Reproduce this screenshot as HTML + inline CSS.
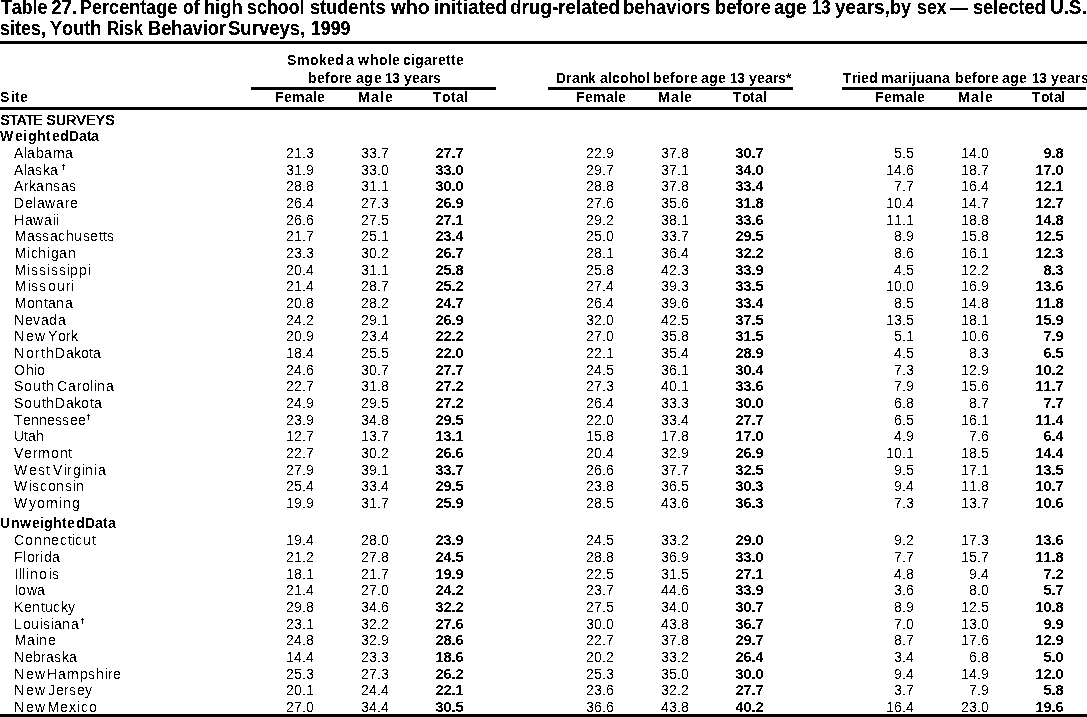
<!DOCTYPE html>
<html lang="en"><head><meta charset="utf-8"><title>Table 27</title>
<style>
html,body{margin:0;padding:0;background:#fff;}
body{width:1087px;height:717px;position:relative;overflow:hidden;font-family:"Liberation Sans",sans-serif;color:#000;font-kerning:none;}
.ly{position:absolute;left:0;top:0;width:1087px;height:717px;overflow:hidden;}
#lr{filter:url(#fr);}
#lb{filter:url(#fb);}
#lb i{font-weight:bold;}
#lm{filter:url(#fm);}
#ln{filter:url(#fn);}
#lt{filter:url(#ft);}
.w{position:absolute;left:0;font-size:14px;line-height:16px;}
.w i{position:absolute;top:0;font-style:normal;white-space:pre;}
.t{position:absolute;white-space:nowrap;margin:0;padding:0;}
.r{position:absolute;background:#000;}
</style></head>
<body>
<svg width="0" height="0" style="position:absolute"><defs>
<filter id="fr" x="0" y="0" width="100%" height="100%" color-interpolation-filters="sRGB"><feComponentTransfer><feFuncA type="discrete" tableValues="0 0 0 0 0 0 0 0 0 0 0 0 0 0 0 0 0 0 0 0 1 1 1 1 1 1 1 1 1 1 1 1 1 1 1 1 1 1 1 1"/></feComponentTransfer></filter>
<filter id="fb" x="0" y="0" width="100%" height="100%" color-interpolation-filters="sRGB"><feComponentTransfer><feFuncA type="discrete" tableValues="0 0 0 0 0 0 0 0 0 0 0 0 0 0 0 0 0 0 0 0 1 1 1 1 1 1 1 1 1 1 1 1 1 1 1 1 1 1 1 1"/></feComponentTransfer></filter>
<filter id="fm" x="0" y="0" width="100%" height="100%" color-interpolation-filters="sRGB"><feComponentTransfer><feFuncA type="discrete" tableValues="0 0 0 0 0 0 0 0 0 0 0 0 0 0 0 0 0 0 1 1 1 1 1 1 1 1 1 1 1 1 1 1 1 1 1 1 1 1 1 1"/></feComponentTransfer></filter>
<filter id="fn" x="0" y="0" width="100%" height="100%" color-interpolation-filters="sRGB"><feComponentTransfer><feFuncA type="discrete" tableValues="0 0 0 0 0 0 0 0 0 0 0 0 0 0 0 0 0 0 0 0 0 0 0 0 0 0 0 0 0 0 0 0 0 0 0 0 0 0 0 0 0 0 0 0 0 0 0 0 0 0 1 1 1 1 1 1 1 1 1 1 1 1 1 1 1 1 1 1 1 1 1 1 1 1 1 1 1 1 1 1 1 1 1 1 1 1 1 1 1 1 1 1 1 1 1 1 1 1 1 1"/></feComponentTransfer></filter>
<filter id="ft" x="0" y="0" width="100%" height="100%" color-interpolation-filters="sRGB"><feComponentTransfer><feFuncA type="discrete" tableValues="0 0 0 0 0 0 0 0 0 0 0 0 0 0 0 0 0 0 0 0 0 0 0 0 0 0 0 0 0 0 0 0 0 0 0 0 0 0 0 0 1 1 1 1 1 1 1 1 1 1 1 1 1 1 1 1 1 1 1 1 1 1 1 1 1 1 1 1 1 1 1 1 1 1 1 1 1 1 1 1 1 1 1 1 1 1 1 1 1 1 1 1 1 1 1 1 1 1 1 1"/></feComponentTransfer></filter>
</defs></svg>
<div class="ly">
<div class="r" style="left:0px;top:41px;width:1087px;height:3px"></div>
<div class="r" style="left:251px;top:87px;width:245px;height:3px"></div>
<div class="r" style="left:548px;top:87px;width:245px;height:3px"></div>
<div class="r" style="left:842px;top:87px;width:244px;height:3px"></div>
<div class="r" style="left:0px;top:107px;width:1087px;height:3px"></div>
<div class="r" style="left:0px;top:714px;width:1087px;height:3px"></div>
<div class="r" style="left:63px;top:164px;width:1px;height:6px"></div>
<div class="r" style="left:62px;top:165px;width:3px;height:1px"></div>
<div class="r" style="left:88px;top:414px;width:1px;height:6px"></div>
<div class="r" style="left:87px;top:415px;width:3px;height:1px"></div>
<div class="r" style="left:82px;top:618px;width:1px;height:6px"></div>
<div class="r" style="left:81px;top:619px;width:3px;height:1px"></div>
</div>
<div class="ly" id="lr">
<div class="t" style="top:145px;font-size:14px;line-height:16px;letter-spacing:0.2146px;left:286px;">21.3</div>
<div class="t" style="top:145px;font-size:14px;line-height:16px;letter-spacing:0.2146px;left:361px;">33.7</div>
<div class="t" style="top:145px;font-size:14px;line-height:16px;letter-spacing:0.2146px;left:586px;">22.9</div>
<div class="t" style="top:145px;font-size:14px;line-height:16px;letter-spacing:0.2146px;left:661px;">37.8</div>
<div class="t" style="top:145px;font-size:14px;line-height:16px;letter-spacing:0.2146px;left:894px;">5.5</div>
<div class="t" style="top:145px;font-size:14px;line-height:16px;letter-spacing:0.2146px;left:961px;">14.0</div>
<div class="t" style="top:162px;font-size:14px;line-height:16px;letter-spacing:0.2146px;left:286px;">31.9</div>
<div class="t" style="top:162px;font-size:14px;line-height:16px;letter-spacing:0.2146px;left:361px;">33.0</div>
<div class="t" style="top:162px;font-size:14px;line-height:16px;letter-spacing:0.2146px;left:586px;">29.7</div>
<div class="t" style="top:162px;font-size:14px;line-height:16px;letter-spacing:0.2146px;left:661px;">37.1</div>
<div class="t" style="top:162px;font-size:14px;line-height:16px;letter-spacing:0.2146px;left:886px;">14.6</div>
<div class="t" style="top:162px;font-size:14px;line-height:16px;letter-spacing:0.2146px;left:961px;">18.7</div>
<div class="t" style="top:178px;font-size:14px;line-height:16px;letter-spacing:0.2146px;left:286px;">28.8</div>
<div class="t" style="top:178px;font-size:14px;line-height:16px;letter-spacing:0.2146px;left:361px;">31.1</div>
<div class="t" style="top:178px;font-size:14px;line-height:16px;letter-spacing:0.2146px;left:586px;">28.8</div>
<div class="t" style="top:178px;font-size:14px;line-height:16px;letter-spacing:0.2146px;left:661px;">37.8</div>
<div class="t" style="top:178px;font-size:14px;line-height:16px;letter-spacing:0.2146px;left:894px;">7.7</div>
<div class="t" style="top:178px;font-size:14px;line-height:16px;letter-spacing:0.2146px;left:961px;">16.4</div>
<div class="t" style="top:195px;font-size:14px;line-height:16px;letter-spacing:0.2146px;left:286px;">26.4</div>
<div class="t" style="top:195px;font-size:14px;line-height:16px;letter-spacing:0.2146px;left:361px;">27.3</div>
<div class="t" style="top:195px;font-size:14px;line-height:16px;letter-spacing:0.2146px;left:586px;">27.6</div>
<div class="t" style="top:195px;font-size:14px;line-height:16px;letter-spacing:0.2146px;left:661px;">35.6</div>
<div class="t" style="top:195px;font-size:14px;line-height:16px;letter-spacing:0.2146px;left:886px;">10.4</div>
<div class="t" style="top:195px;font-size:14px;line-height:16px;letter-spacing:0.2146px;left:961px;">14.7</div>
<div class="t" style="top:212px;font-size:14px;line-height:16px;letter-spacing:0.2146px;left:286px;">26.6</div>
<div class="t" style="top:212px;font-size:14px;line-height:16px;letter-spacing:0.2146px;left:361px;">27.5</div>
<div class="t" style="top:212px;font-size:14px;line-height:16px;letter-spacing:0.2146px;left:586px;">29.2</div>
<div class="t" style="top:212px;font-size:14px;line-height:16px;letter-spacing:0.2146px;left:661px;">38.1</div>
<div class="t" style="top:212px;font-size:14px;line-height:16px;letter-spacing:0.2146px;left:886px;">11.1</div>
<div class="t" style="top:212px;font-size:14px;line-height:16px;letter-spacing:0.2146px;left:961px;">18.8</div>
<div class="t" style="top:228px;font-size:14px;line-height:16px;letter-spacing:0.2146px;left:286px;">21.7</div>
<div class="t" style="top:228px;font-size:14px;line-height:16px;letter-spacing:0.2146px;left:361px;">25.1</div>
<div class="t" style="top:228px;font-size:14px;line-height:16px;letter-spacing:0.2146px;left:586px;">25.0</div>
<div class="t" style="top:228px;font-size:14px;line-height:16px;letter-spacing:0.2146px;left:661px;">33.7</div>
<div class="t" style="top:228px;font-size:14px;line-height:16px;letter-spacing:0.2146px;left:894px;">8.9</div>
<div class="t" style="top:228px;font-size:14px;line-height:16px;letter-spacing:0.2146px;left:961px;">15.8</div>
<div class="t" style="top:245px;font-size:14px;line-height:16px;letter-spacing:0.2146px;left:286px;">23.3</div>
<div class="t" style="top:245px;font-size:14px;line-height:16px;letter-spacing:0.2146px;left:361px;">30.2</div>
<div class="t" style="top:245px;font-size:14px;line-height:16px;letter-spacing:0.2146px;left:586px;">28.1</div>
<div class="t" style="top:245px;font-size:14px;line-height:16px;letter-spacing:0.2146px;left:661px;">36.4</div>
<div class="t" style="top:245px;font-size:14px;line-height:16px;letter-spacing:0.2146px;left:894px;">8.6</div>
<div class="t" style="top:245px;font-size:14px;line-height:16px;letter-spacing:0.2146px;left:961px;">16.1</div>
<div class="t" style="top:262px;font-size:14px;line-height:16px;letter-spacing:0.2146px;left:286px;">20.4</div>
<div class="t" style="top:262px;font-size:14px;line-height:16px;letter-spacing:0.2146px;left:361px;">31.1</div>
<div class="t" style="top:262px;font-size:14px;line-height:16px;letter-spacing:0.2146px;left:586px;">25.8</div>
<div class="t" style="top:262px;font-size:14px;line-height:16px;letter-spacing:0.2146px;left:661px;">42.3</div>
<div class="t" style="top:262px;font-size:14px;line-height:16px;letter-spacing:0.2146px;left:894px;">4.5</div>
<div class="t" style="top:262px;font-size:14px;line-height:16px;letter-spacing:0.2146px;left:961px;">12.2</div>
<div class="t" style="top:278px;font-size:14px;line-height:16px;letter-spacing:0.2146px;left:286px;">21.4</div>
<div class="t" style="top:278px;font-size:14px;line-height:16px;letter-spacing:0.2146px;left:361px;">28.7</div>
<div class="t" style="top:278px;font-size:14px;line-height:16px;letter-spacing:0.2146px;left:586px;">27.4</div>
<div class="t" style="top:278px;font-size:14px;line-height:16px;letter-spacing:0.2146px;left:661px;">39.3</div>
<div class="t" style="top:278px;font-size:14px;line-height:16px;letter-spacing:0.2146px;left:886px;">10.0</div>
<div class="t" style="top:278px;font-size:14px;line-height:16px;letter-spacing:0.2146px;left:961px;">16.9</div>
<div class="t" style="top:295px;font-size:14px;line-height:16px;letter-spacing:0.2146px;left:286px;">20.8</div>
<div class="t" style="top:295px;font-size:14px;line-height:16px;letter-spacing:0.2146px;left:361px;">28.2</div>
<div class="t" style="top:295px;font-size:14px;line-height:16px;letter-spacing:0.2146px;left:586px;">26.4</div>
<div class="t" style="top:295px;font-size:14px;line-height:16px;letter-spacing:0.2146px;left:661px;">39.6</div>
<div class="t" style="top:295px;font-size:14px;line-height:16px;letter-spacing:0.2146px;left:894px;">8.5</div>
<div class="t" style="top:295px;font-size:14px;line-height:16px;letter-spacing:0.2146px;left:961px;">14.8</div>
<div class="t" style="top:312px;font-size:14px;line-height:16px;letter-spacing:0.2146px;left:286px;">24.2</div>
<div class="t" style="top:312px;font-size:14px;line-height:16px;letter-spacing:0.2146px;left:361px;">29.1</div>
<div class="t" style="top:312px;font-size:14px;line-height:16px;letter-spacing:0.2146px;left:586px;">32.0</div>
<div class="t" style="top:312px;font-size:14px;line-height:16px;letter-spacing:0.2146px;left:661px;">42.5</div>
<div class="t" style="top:312px;font-size:14px;line-height:16px;letter-spacing:0.2146px;left:886px;">13.5</div>
<div class="t" style="top:312px;font-size:14px;line-height:16px;letter-spacing:0.2146px;left:961px;">18.1</div>
<div class="t" style="top:328px;font-size:14px;line-height:16px;letter-spacing:0.2146px;left:286px;">20.9</div>
<div class="t" style="top:328px;font-size:14px;line-height:16px;letter-spacing:0.2146px;left:361px;">23.4</div>
<div class="t" style="top:328px;font-size:14px;line-height:16px;letter-spacing:0.2146px;left:586px;">27.0</div>
<div class="t" style="top:328px;font-size:14px;line-height:16px;letter-spacing:0.2146px;left:661px;">35.8</div>
<div class="t" style="top:328px;font-size:14px;line-height:16px;letter-spacing:0.2146px;left:894px;">5.1</div>
<div class="t" style="top:328px;font-size:14px;line-height:16px;letter-spacing:0.2146px;left:961px;">10.6</div>
<div class="t" style="top:345px;font-size:14px;line-height:16px;letter-spacing:0.2146px;left:286px;">18.4</div>
<div class="t" style="top:345px;font-size:14px;line-height:16px;letter-spacing:0.2146px;left:361px;">25.5</div>
<div class="t" style="top:345px;font-size:14px;line-height:16px;letter-spacing:0.2146px;left:586px;">22.1</div>
<div class="t" style="top:345px;font-size:14px;line-height:16px;letter-spacing:0.2146px;left:661px;">35.4</div>
<div class="t" style="top:345px;font-size:14px;line-height:16px;letter-spacing:0.2146px;left:894px;">4.5</div>
<div class="t" style="top:345px;font-size:14px;line-height:16px;letter-spacing:0.2146px;left:969px;">8.3</div>
<div class="t" style="top:362px;font-size:14px;line-height:16px;letter-spacing:0.2146px;left:286px;">24.6</div>
<div class="t" style="top:362px;font-size:14px;line-height:16px;letter-spacing:0.2146px;left:361px;">30.7</div>
<div class="t" style="top:362px;font-size:14px;line-height:16px;letter-spacing:0.2146px;left:586px;">24.5</div>
<div class="t" style="top:362px;font-size:14px;line-height:16px;letter-spacing:0.2146px;left:661px;">36.1</div>
<div class="t" style="top:362px;font-size:14px;line-height:16px;letter-spacing:0.2146px;left:894px;">7.3</div>
<div class="t" style="top:362px;font-size:14px;line-height:16px;letter-spacing:0.2146px;left:961px;">12.9</div>
<div class="t" style="top:378px;font-size:14px;line-height:16px;letter-spacing:0.2146px;left:286px;">22.7</div>
<div class="t" style="top:378px;font-size:14px;line-height:16px;letter-spacing:0.2146px;left:361px;">31.8</div>
<div class="t" style="top:378px;font-size:14px;line-height:16px;letter-spacing:0.2146px;left:586px;">27.3</div>
<div class="t" style="top:378px;font-size:14px;line-height:16px;letter-spacing:0.2146px;left:661px;">40.1</div>
<div class="t" style="top:378px;font-size:14px;line-height:16px;letter-spacing:0.2146px;left:894px;">7.9</div>
<div class="t" style="top:378px;font-size:14px;line-height:16px;letter-spacing:0.2146px;left:961px;">15.6</div>
<div class="t" style="top:395px;font-size:14px;line-height:16px;letter-spacing:0.2146px;left:286px;">24.9</div>
<div class="t" style="top:395px;font-size:14px;line-height:16px;letter-spacing:0.2146px;left:361px;">29.5</div>
<div class="t" style="top:395px;font-size:14px;line-height:16px;letter-spacing:0.2146px;left:586px;">26.4</div>
<div class="t" style="top:395px;font-size:14px;line-height:16px;letter-spacing:0.2146px;left:661px;">33.3</div>
<div class="t" style="top:395px;font-size:14px;line-height:16px;letter-spacing:0.2146px;left:894px;">6.8</div>
<div class="t" style="top:395px;font-size:14px;line-height:16px;letter-spacing:0.2146px;left:969px;">8.7</div>
<div class="t" style="top:412px;font-size:14px;line-height:16px;letter-spacing:0.2146px;left:286px;">23.9</div>
<div class="t" style="top:412px;font-size:14px;line-height:16px;letter-spacing:0.2146px;left:361px;">34.8</div>
<div class="t" style="top:412px;font-size:14px;line-height:16px;letter-spacing:0.2146px;left:586px;">22.0</div>
<div class="t" style="top:412px;font-size:14px;line-height:16px;letter-spacing:0.2146px;left:661px;">33.4</div>
<div class="t" style="top:412px;font-size:14px;line-height:16px;letter-spacing:0.2146px;left:894px;">6.5</div>
<div class="t" style="top:412px;font-size:14px;line-height:16px;letter-spacing:0.2146px;left:961px;">16.1</div>
<div class="t" style="top:428px;font-size:14px;line-height:16px;letter-spacing:0.2146px;left:286px;">12.7</div>
<div class="t" style="top:428px;font-size:14px;line-height:16px;letter-spacing:0.2146px;left:361px;">13.7</div>
<div class="t" style="top:428px;font-size:14px;line-height:16px;letter-spacing:0.2146px;left:586px;">15.8</div>
<div class="t" style="top:428px;font-size:14px;line-height:16px;letter-spacing:0.2146px;left:661px;">17.8</div>
<div class="t" style="top:428px;font-size:14px;line-height:16px;letter-spacing:0.2146px;left:894px;">4.9</div>
<div class="t" style="top:428px;font-size:14px;line-height:16px;letter-spacing:0.2146px;left:969px;">7.6</div>
<div class="t" style="top:445px;font-size:14px;line-height:16px;letter-spacing:0.2146px;left:286px;">22.7</div>
<div class="t" style="top:445px;font-size:14px;line-height:16px;letter-spacing:0.2146px;left:361px;">30.2</div>
<div class="t" style="top:445px;font-size:14px;line-height:16px;letter-spacing:0.2146px;left:586px;">20.4</div>
<div class="t" style="top:445px;font-size:14px;line-height:16px;letter-spacing:0.2146px;left:661px;">32.9</div>
<div class="t" style="top:445px;font-size:14px;line-height:16px;letter-spacing:0.2146px;left:886px;">10.1</div>
<div class="t" style="top:445px;font-size:14px;line-height:16px;letter-spacing:0.2146px;left:961px;">18.5</div>
<div class="t" style="top:462px;font-size:14px;line-height:16px;letter-spacing:0.2146px;left:286px;">27.9</div>
<div class="t" style="top:462px;font-size:14px;line-height:16px;letter-spacing:0.2146px;left:361px;">39.1</div>
<div class="t" style="top:462px;font-size:14px;line-height:16px;letter-spacing:0.2146px;left:586px;">26.6</div>
<div class="t" style="top:462px;font-size:14px;line-height:16px;letter-spacing:0.2146px;left:661px;">37.7</div>
<div class="t" style="top:462px;font-size:14px;line-height:16px;letter-spacing:0.2146px;left:894px;">9.5</div>
<div class="t" style="top:462px;font-size:14px;line-height:16px;letter-spacing:0.2146px;left:961px;">17.1</div>
<div class="t" style="top:478px;font-size:14px;line-height:16px;letter-spacing:0.2146px;left:286px;">25.4</div>
<div class="t" style="top:478px;font-size:14px;line-height:16px;letter-spacing:0.2146px;left:361px;">33.4</div>
<div class="t" style="top:478px;font-size:14px;line-height:16px;letter-spacing:0.2146px;left:586px;">23.8</div>
<div class="t" style="top:478px;font-size:14px;line-height:16px;letter-spacing:0.2146px;left:661px;">36.5</div>
<div class="t" style="top:478px;font-size:14px;line-height:16px;letter-spacing:0.2146px;left:894px;">9.4</div>
<div class="t" style="top:478px;font-size:14px;line-height:16px;letter-spacing:0.2146px;left:961px;">11.8</div>
<div class="t" style="top:495px;font-size:14px;line-height:16px;letter-spacing:0.2146px;left:286px;">19.9</div>
<div class="t" style="top:495px;font-size:14px;line-height:16px;letter-spacing:0.2146px;left:361px;">31.7</div>
<div class="t" style="top:495px;font-size:14px;line-height:16px;letter-spacing:0.2146px;left:586px;">28.5</div>
<div class="t" style="top:495px;font-size:14px;line-height:16px;letter-spacing:0.2146px;left:661px;">43.6</div>
<div class="t" style="top:495px;font-size:14px;line-height:16px;letter-spacing:0.2146px;left:894px;">7.3</div>
<div class="t" style="top:495px;font-size:14px;line-height:16px;letter-spacing:0.2146px;left:961px;">13.7</div>
<div class="t" style="top:532px;font-size:14px;line-height:16px;letter-spacing:0.2146px;left:286px;">19.4</div>
<div class="t" style="top:532px;font-size:14px;line-height:16px;letter-spacing:0.2146px;left:361px;">28.0</div>
<div class="t" style="top:532px;font-size:14px;line-height:16px;letter-spacing:0.2146px;left:586px;">24.5</div>
<div class="t" style="top:532px;font-size:14px;line-height:16px;letter-spacing:0.2146px;left:661px;">33.2</div>
<div class="t" style="top:532px;font-size:14px;line-height:16px;letter-spacing:0.2146px;left:894px;">9.2</div>
<div class="t" style="top:532px;font-size:14px;line-height:16px;letter-spacing:0.2146px;left:961px;">17.3</div>
<div class="t" style="top:549px;font-size:14px;line-height:16px;letter-spacing:0.2146px;left:286px;">21.2</div>
<div class="t" style="top:549px;font-size:14px;line-height:16px;letter-spacing:0.2146px;left:361px;">27.8</div>
<div class="t" style="top:549px;font-size:14px;line-height:16px;letter-spacing:0.2146px;left:586px;">28.8</div>
<div class="t" style="top:549px;font-size:14px;line-height:16px;letter-spacing:0.2146px;left:661px;">36.9</div>
<div class="t" style="top:549px;font-size:14px;line-height:16px;letter-spacing:0.2146px;left:894px;">7.7</div>
<div class="t" style="top:549px;font-size:14px;line-height:16px;letter-spacing:0.2146px;left:961px;">15.7</div>
<div class="t" style="top:566px;font-size:14px;line-height:16px;letter-spacing:0.2146px;left:286px;">18.1</div>
<div class="t" style="top:566px;font-size:14px;line-height:16px;letter-spacing:0.2146px;left:361px;">21.7</div>
<div class="t" style="top:566px;font-size:14px;line-height:16px;letter-spacing:0.2146px;left:586px;">22.5</div>
<div class="t" style="top:566px;font-size:14px;line-height:16px;letter-spacing:0.2146px;left:661px;">31.5</div>
<div class="t" style="top:566px;font-size:14px;line-height:16px;letter-spacing:0.2146px;left:894px;">4.8</div>
<div class="t" style="top:566px;font-size:14px;line-height:16px;letter-spacing:0.2146px;left:969px;">9.4</div>
<div class="t" style="top:582px;font-size:14px;line-height:16px;letter-spacing:0.2146px;left:286px;">21.4</div>
<div class="t" style="top:582px;font-size:14px;line-height:16px;letter-spacing:0.2146px;left:361px;">27.0</div>
<div class="t" style="top:582px;font-size:14px;line-height:16px;letter-spacing:0.2146px;left:586px;">23.7</div>
<div class="t" style="top:582px;font-size:14px;line-height:16px;letter-spacing:0.2146px;left:661px;">44.6</div>
<div class="t" style="top:582px;font-size:14px;line-height:16px;letter-spacing:0.2146px;left:894px;">3.6</div>
<div class="t" style="top:582px;font-size:14px;line-height:16px;letter-spacing:0.2146px;left:969px;">8.0</div>
<div class="t" style="top:599px;font-size:14px;line-height:16px;letter-spacing:0.2146px;left:286px;">29.8</div>
<div class="t" style="top:599px;font-size:14px;line-height:16px;letter-spacing:0.2146px;left:361px;">34.6</div>
<div class="t" style="top:599px;font-size:14px;line-height:16px;letter-spacing:0.2146px;left:586px;">27.5</div>
<div class="t" style="top:599px;font-size:14px;line-height:16px;letter-spacing:0.2146px;left:661px;">34.0</div>
<div class="t" style="top:599px;font-size:14px;line-height:16px;letter-spacing:0.2146px;left:894px;">8.9</div>
<div class="t" style="top:599px;font-size:14px;line-height:16px;letter-spacing:0.2146px;left:961px;">12.5</div>
<div class="t" style="top:616px;font-size:14px;line-height:16px;letter-spacing:0.2146px;left:286px;">23.1</div>
<div class="t" style="top:616px;font-size:14px;line-height:16px;letter-spacing:0.2146px;left:361px;">32.2</div>
<div class="t" style="top:616px;font-size:14px;line-height:16px;letter-spacing:0.2146px;left:586px;">30.0</div>
<div class="t" style="top:616px;font-size:14px;line-height:16px;letter-spacing:0.2146px;left:661px;">43.8</div>
<div class="t" style="top:616px;font-size:14px;line-height:16px;letter-spacing:0.2146px;left:894px;">7.0</div>
<div class="t" style="top:616px;font-size:14px;line-height:16px;letter-spacing:0.2146px;left:961px;">13.0</div>
<div class="t" style="top:632px;font-size:14px;line-height:16px;letter-spacing:0.2146px;left:286px;">24.8</div>
<div class="t" style="top:632px;font-size:14px;line-height:16px;letter-spacing:0.2146px;left:361px;">32.9</div>
<div class="t" style="top:632px;font-size:14px;line-height:16px;letter-spacing:0.2146px;left:586px;">22.7</div>
<div class="t" style="top:632px;font-size:14px;line-height:16px;letter-spacing:0.2146px;left:661px;">37.8</div>
<div class="t" style="top:632px;font-size:14px;line-height:16px;letter-spacing:0.2146px;left:894px;">8.7</div>
<div class="t" style="top:632px;font-size:14px;line-height:16px;letter-spacing:0.2146px;left:961px;">17.6</div>
<div class="t" style="top:649px;font-size:14px;line-height:16px;letter-spacing:0.2146px;left:286px;">14.4</div>
<div class="t" style="top:649px;font-size:14px;line-height:16px;letter-spacing:0.2146px;left:361px;">23.3</div>
<div class="t" style="top:649px;font-size:14px;line-height:16px;letter-spacing:0.2146px;left:586px;">20.2</div>
<div class="t" style="top:649px;font-size:14px;line-height:16px;letter-spacing:0.2146px;left:661px;">33.2</div>
<div class="t" style="top:649px;font-size:14px;line-height:16px;letter-spacing:0.2146px;left:894px;">3.4</div>
<div class="t" style="top:649px;font-size:14px;line-height:16px;letter-spacing:0.2146px;left:969px;">6.8</div>
<div class="t" style="top:666px;font-size:14px;line-height:16px;letter-spacing:0.2146px;left:286px;">25.3</div>
<div class="t" style="top:666px;font-size:14px;line-height:16px;letter-spacing:0.2146px;left:361px;">27.3</div>
<div class="t" style="top:666px;font-size:14px;line-height:16px;letter-spacing:0.2146px;left:586px;">25.3</div>
<div class="t" style="top:666px;font-size:14px;line-height:16px;letter-spacing:0.2146px;left:661px;">35.0</div>
<div class="t" style="top:666px;font-size:14px;line-height:16px;letter-spacing:0.2146px;left:894px;">9.4</div>
<div class="t" style="top:666px;font-size:14px;line-height:16px;letter-spacing:0.2146px;left:961px;">14.9</div>
<div class="t" style="top:682px;font-size:14px;line-height:16px;letter-spacing:0.2146px;left:286px;">20.1</div>
<div class="t" style="top:682px;font-size:14px;line-height:16px;letter-spacing:0.2146px;left:361px;">24.4</div>
<div class="t" style="top:682px;font-size:14px;line-height:16px;letter-spacing:0.2146px;left:586px;">23.6</div>
<div class="t" style="top:682px;font-size:14px;line-height:16px;letter-spacing:0.2146px;left:661px;">32.2</div>
<div class="t" style="top:682px;font-size:14px;line-height:16px;letter-spacing:0.2146px;left:894px;">3.7</div>
<div class="t" style="top:682px;font-size:14px;line-height:16px;letter-spacing:0.2146px;left:969px;">7.9</div>
<div class="t" style="top:699px;font-size:14px;line-height:16px;letter-spacing:0.2146px;left:286px;">27.0</div>
<div class="t" style="top:699px;font-size:14px;line-height:16px;letter-spacing:0.2146px;left:361px;">34.4</div>
<div class="t" style="top:699px;font-size:14px;line-height:16px;letter-spacing:0.2146px;left:586px;">36.6</div>
<div class="t" style="top:699px;font-size:14px;line-height:16px;letter-spacing:0.2146px;left:661px;">43.8</div>
<div class="t" style="top:699px;font-size:14px;line-height:16px;letter-spacing:0.2146px;left:886px;">16.4</div>
<div class="t" style="top:699px;font-size:14px;line-height:16px;letter-spacing:0.2146px;left:961px;">23.0</div>
</div>
<div class="ly" id="lb">
<span class="w" style="top:52px"><i style="left:287px">S</i><i style="left:297px">m</i><i style="left:310px">o</i><i style="left:319px">k</i><i style="left:327px">e</i><i style="left:335px">d</i></span>
<span class="w" style="top:52px"><i style="left:346px">a</i></span>
<span class="w" style="top:52px"><i style="left:358px">w</i><i style="left:370px">h</i><i style="left:379px">o</i><i style="left:388px">l</i><i style="left:392px">e</i></span>
<span class="w" style="top:52px"><i style="left:403px">c</i><i style="left:411px">i</i><i style="left:415px">g</i><i style="left:424px">a</i><i style="left:432px">r</i><i style="left:438px">e</i><i style="left:446px">t</i><i style="left:451px">t</i><i style="left:456px">e</i></span>
<span class="w" style="top:70px"><i style="left:308px">b</i><i style="left:317px">e</i><i style="left:325px">f</i><i style="left:330px">o</i><i style="left:339px">r</i><i style="left:344px">e</i></span>
<span class="w" style="top:70px"><i style="left:356px">a</i><i style="left:364px">g</i><i style="left:374px">e</i></span>
<span class="w" style="top:70px"><i style="left:385px">1</i><i style="left:392px">3</i></span>
<span class="w" style="top:70px"><i style="left:404px">y</i><i style="left:412px">e</i><i style="left:420px">a</i><i style="left:428px">r</i><i style="left:433px">s</i></span>
<span class="w" style="top:70px"><i style="left:556px">D</i><i style="left:566px">r</i><i style="left:572px">a</i><i style="left:580px">n</i><i style="left:588px">k</i></span>
<span class="w" style="top:70px"><i style="left:600px">a</i><i style="left:608px">l</i><i style="left:612px">c</i><i style="left:620px">o</i><i style="left:629px">h</i><i style="left:637px">o</i><i style="left:646px">l</i></span>
<span class="w" style="top:70px"><i style="left:653px">b</i><i style="left:662px">e</i><i style="left:670px">f</i><i style="left:675px">o</i><i style="left:684px">r</i><i style="left:690px">e</i></span>
<span class="w" style="top:70px"><i style="left:701px">a</i><i style="left:709px">g</i><i style="left:718px">e</i></span>
<span class="w" style="top:70px"><i style="left:730px">1</i><i style="left:737px">3</i></span>
<span class="w" style="top:70px"><i style="left:749px">y</i><i style="left:757px">e</i><i style="left:765px">a</i><i style="left:773px">r</i><i style="left:778px">s</i><i style="left:786px">*</i></span>
<span class="w" style="top:70px"><i style="left:843px">T</i><i style="left:852px">r</i><i style="left:857px">i</i><i style="left:861px">e</i><i style="left:869px">d</i></span>
<span class="w" style="top:70px"><i style="left:881px">m</i><i style="left:894px">a</i><i style="left:902px">r</i><i style="left:908px">i</i><i style="left:912px">j</i><i style="left:916px">u</i><i style="left:925px">a</i><i style="left:933px">n</i><i style="left:942px">a</i></span>
<span class="w" style="top:70px"><i style="left:955px">b</i><i style="left:964px">e</i><i style="left:972px">f</i><i style="left:977px">o</i><i style="left:985px">r</i><i style="left:991px">e</i></span>
<span class="w" style="top:70px"><i style="left:1002px">a</i><i style="left:1010px">g</i><i style="left:1019px">e</i></span>
<span class="w" style="top:70px"><i style="left:1032px">1</i><i style="left:1039px">3</i></span>
<span class="w" style="top:70px"><i style="left:1051px">y</i><i style="left:1059px">e</i><i style="left:1067px">a</i><i style="left:1075px">r</i><i style="left:1081px">s</i></span>
<span class="w" style="top:89px"><i style="left:275px">F</i><i style="left:284px">e</i><i style="left:292px">m</i><i style="left:305px">a</i><i style="left:313px">l</i><i style="left:317px">e</i></span>
<span class="w" style="top:89px"><i style="left:358px">M</i><i style="left:371px">a</i><i style="left:380px">l</i><i style="left:385px">e</i></span>
<span class="w" style="top:89px"><i style="left:433px">T</i><i style="left:442px">o</i><i style="left:451px">t</i><i style="left:456px">a</i><i style="left:464px">l</i></span>
<span class="w" style="top:89px"><i style="left:576px">F</i><i style="left:585px">e</i><i style="left:593px">m</i><i style="left:606px">a</i><i style="left:614px">l</i><i style="left:618px">e</i></span>
<span class="w" style="top:89px"><i style="left:658px">M</i><i style="left:671px">a</i><i style="left:680px">l</i><i style="left:684px">e</i></span>
<span class="w" style="top:89px"><i style="left:733px">T</i><i style="left:742px">o</i><i style="left:750px">t</i><i style="left:755px">a</i><i style="left:763px">l</i></span>
<span class="w" style="top:89px"><i style="left:875px">F</i><i style="left:884px">e</i><i style="left:892px">m</i><i style="left:905px">a</i><i style="left:913px">l</i><i style="left:917px">e</i></span>
<span class="w" style="top:89px"><i style="left:958px">M</i><i style="left:971px">a</i><i style="left:980px">l</i><i style="left:985px">e</i></span>
<span class="w" style="top:89px"><i style="left:1032px">T</i><i style="left:1041px">o</i><i style="left:1049px">t</i><i style="left:1054px">a</i><i style="left:1061px">l</i></span>
<span class="w" style="top:89px"><i style="left:0px">S</i><i style="left:11px">i</i><i style="left:15px">t</i><i style="left:20px">e</i></span>
<span class="w" style="top:128px"><i style="left:0px">W</i><i style="left:15px">e</i><i style="left:23px">i</i><i style="left:28px">g</i><i style="left:37px">h</i><i style="left:46px">t</i><i style="left:52px">e</i><i style="left:60px">d</i></span>
<span class="w" style="top:128px"><i style="left:69px">D</i><i style="left:79px">a</i><i style="left:87px">t</i><i style="left:91px">a</i></span>
<div class="t" style="top:145px;font-size:14.5px;line-height:16px;font-weight:bold;letter-spacing:-0.0642px;left:435.5px;">27.7</div>
<div class="t" style="top:145px;font-size:14.5px;line-height:16px;font-weight:bold;letter-spacing:-0.0642px;left:735.5px;">30.7</div>
<div class="t" style="top:145px;font-size:14.5px;line-height:16px;font-weight:bold;letter-spacing:-0.0642px;left:1043.5px;">9.8</div>
<div class="t" style="top:162px;font-size:14.5px;line-height:16px;font-weight:bold;letter-spacing:-0.0642px;left:435.5px;">33.0</div>
<div class="t" style="top:162px;font-size:14.5px;line-height:16px;font-weight:bold;letter-spacing:-0.0642px;left:735.5px;">34.0</div>
<div class="t" style="top:162px;font-size:14.5px;line-height:16px;font-weight:bold;letter-spacing:-0.0642px;left:1035.5px;">17.0</div>
<div class="t" style="top:178px;font-size:14.5px;line-height:16px;font-weight:bold;letter-spacing:-0.0642px;left:435.5px;">30.0</div>
<div class="t" style="top:178px;font-size:14.5px;line-height:16px;font-weight:bold;letter-spacing:-0.0642px;left:735.5px;">33.4</div>
<div class="t" style="top:178px;font-size:14.5px;line-height:16px;font-weight:bold;letter-spacing:-0.0642px;left:1035.5px;">12.1</div>
<div class="t" style="top:195px;font-size:14.5px;line-height:16px;font-weight:bold;letter-spacing:-0.0642px;left:435.5px;">26.9</div>
<div class="t" style="top:195px;font-size:14.5px;line-height:16px;font-weight:bold;letter-spacing:-0.0642px;left:735.5px;">31.8</div>
<div class="t" style="top:195px;font-size:14.5px;line-height:16px;font-weight:bold;letter-spacing:-0.0642px;left:1035.5px;">12.7</div>
<div class="t" style="top:212px;font-size:14.5px;line-height:16px;font-weight:bold;letter-spacing:-0.0642px;left:435.5px;">27.1</div>
<div class="t" style="top:212px;font-size:14.5px;line-height:16px;font-weight:bold;letter-spacing:-0.0642px;left:735.5px;">33.6</div>
<div class="t" style="top:212px;font-size:14.5px;line-height:16px;font-weight:bold;letter-spacing:-0.0642px;left:1035.5px;">14.8</div>
<div class="t" style="top:228px;font-size:14.5px;line-height:16px;font-weight:bold;letter-spacing:-0.0642px;left:435.5px;">23.4</div>
<div class="t" style="top:228px;font-size:14.5px;line-height:16px;font-weight:bold;letter-spacing:-0.0642px;left:735.5px;">29.5</div>
<div class="t" style="top:228px;font-size:14.5px;line-height:16px;font-weight:bold;letter-spacing:-0.0642px;left:1035.5px;">12.5</div>
<div class="t" style="top:245px;font-size:14.5px;line-height:16px;font-weight:bold;letter-spacing:-0.0642px;left:435.5px;">26.7</div>
<div class="t" style="top:245px;font-size:14.5px;line-height:16px;font-weight:bold;letter-spacing:-0.0642px;left:735.5px;">32.2</div>
<div class="t" style="top:245px;font-size:14.5px;line-height:16px;font-weight:bold;letter-spacing:-0.0642px;left:1035.5px;">12.3</div>
<div class="t" style="top:262px;font-size:14.5px;line-height:16px;font-weight:bold;letter-spacing:-0.0642px;left:435.5px;">25.8</div>
<div class="t" style="top:262px;font-size:14.5px;line-height:16px;font-weight:bold;letter-spacing:-0.0642px;left:735.5px;">33.9</div>
<div class="t" style="top:262px;font-size:14.5px;line-height:16px;font-weight:bold;letter-spacing:-0.0642px;left:1043.5px;">8.3</div>
<div class="t" style="top:278px;font-size:14.5px;line-height:16px;font-weight:bold;letter-spacing:-0.0642px;left:435.5px;">25.2</div>
<div class="t" style="top:278px;font-size:14.5px;line-height:16px;font-weight:bold;letter-spacing:-0.0642px;left:735.5px;">33.5</div>
<div class="t" style="top:278px;font-size:14.5px;line-height:16px;font-weight:bold;letter-spacing:-0.0642px;left:1035.5px;">13.6</div>
<div class="t" style="top:295px;font-size:14.5px;line-height:16px;font-weight:bold;letter-spacing:-0.0642px;left:435.5px;">24.7</div>
<div class="t" style="top:295px;font-size:14.5px;line-height:16px;font-weight:bold;letter-spacing:-0.0642px;left:735.5px;">33.4</div>
<div class="t" style="top:295px;font-size:14.5px;line-height:16px;font-weight:bold;letter-spacing:-0.0642px;left:1035.5px;">11.8</div>
<div class="t" style="top:312px;font-size:14.5px;line-height:16px;font-weight:bold;letter-spacing:-0.0642px;left:435.5px;">26.9</div>
<div class="t" style="top:312px;font-size:14.5px;line-height:16px;font-weight:bold;letter-spacing:-0.0642px;left:735.5px;">37.5</div>
<div class="t" style="top:312px;font-size:14.5px;line-height:16px;font-weight:bold;letter-spacing:-0.0642px;left:1035.5px;">15.9</div>
<div class="t" style="top:328px;font-size:14.5px;line-height:16px;font-weight:bold;letter-spacing:-0.0642px;left:435.5px;">22.2</div>
<div class="t" style="top:328px;font-size:14.5px;line-height:16px;font-weight:bold;letter-spacing:-0.0642px;left:735.5px;">31.5</div>
<div class="t" style="top:328px;font-size:14.5px;line-height:16px;font-weight:bold;letter-spacing:-0.0642px;left:1043.5px;">7.9</div>
<div class="t" style="top:345px;font-size:14.5px;line-height:16px;font-weight:bold;letter-spacing:-0.0642px;left:435.5px;">22.0</div>
<div class="t" style="top:345px;font-size:14.5px;line-height:16px;font-weight:bold;letter-spacing:-0.0642px;left:735.5px;">28.9</div>
<div class="t" style="top:345px;font-size:14.5px;line-height:16px;font-weight:bold;letter-spacing:-0.0642px;left:1043.5px;">6.5</div>
<div class="t" style="top:362px;font-size:14.5px;line-height:16px;font-weight:bold;letter-spacing:-0.0642px;left:435.5px;">27.7</div>
<div class="t" style="top:362px;font-size:14.5px;line-height:16px;font-weight:bold;letter-spacing:-0.0642px;left:735.5px;">30.4</div>
<div class="t" style="top:362px;font-size:14.5px;line-height:16px;font-weight:bold;letter-spacing:-0.0642px;left:1035.5px;">10.2</div>
<div class="t" style="top:378px;font-size:14.5px;line-height:16px;font-weight:bold;letter-spacing:-0.0642px;left:435.5px;">27.2</div>
<div class="t" style="top:378px;font-size:14.5px;line-height:16px;font-weight:bold;letter-spacing:-0.0642px;left:735.5px;">33.6</div>
<div class="t" style="top:378px;font-size:14.5px;line-height:16px;font-weight:bold;letter-spacing:-0.0642px;left:1035.5px;">11.7</div>
<div class="t" style="top:395px;font-size:14.5px;line-height:16px;font-weight:bold;letter-spacing:-0.0642px;left:435.5px;">27.2</div>
<div class="t" style="top:395px;font-size:14.5px;line-height:16px;font-weight:bold;letter-spacing:-0.0642px;left:735.5px;">30.0</div>
<div class="t" style="top:395px;font-size:14.5px;line-height:16px;font-weight:bold;letter-spacing:-0.0642px;left:1043.5px;">7.7</div>
<div class="t" style="top:412px;font-size:14.5px;line-height:16px;font-weight:bold;letter-spacing:-0.0642px;left:435.5px;">29.5</div>
<div class="t" style="top:412px;font-size:14.5px;line-height:16px;font-weight:bold;letter-spacing:-0.0642px;left:735.5px;">27.7</div>
<div class="t" style="top:412px;font-size:14.5px;line-height:16px;font-weight:bold;letter-spacing:-0.0642px;left:1035.5px;">11.4</div>
<div class="t" style="top:428px;font-size:14.5px;line-height:16px;font-weight:bold;letter-spacing:-0.0642px;left:435.5px;">13.1</div>
<div class="t" style="top:428px;font-size:14.5px;line-height:16px;font-weight:bold;letter-spacing:-0.0642px;left:735.5px;">17.0</div>
<div class="t" style="top:428px;font-size:14.5px;line-height:16px;font-weight:bold;letter-spacing:-0.0642px;left:1043.5px;">6.4</div>
<div class="t" style="top:445px;font-size:14.5px;line-height:16px;font-weight:bold;letter-spacing:-0.0642px;left:435.5px;">26.6</div>
<div class="t" style="top:445px;font-size:14.5px;line-height:16px;font-weight:bold;letter-spacing:-0.0642px;left:735.5px;">26.9</div>
<div class="t" style="top:445px;font-size:14.5px;line-height:16px;font-weight:bold;letter-spacing:-0.0642px;left:1035.5px;">14.4</div>
<div class="t" style="top:462px;font-size:14.5px;line-height:16px;font-weight:bold;letter-spacing:-0.0642px;left:435.5px;">33.7</div>
<div class="t" style="top:462px;font-size:14.5px;line-height:16px;font-weight:bold;letter-spacing:-0.0642px;left:735.5px;">32.5</div>
<div class="t" style="top:462px;font-size:14.5px;line-height:16px;font-weight:bold;letter-spacing:-0.0642px;left:1035.5px;">13.5</div>
<div class="t" style="top:478px;font-size:14.5px;line-height:16px;font-weight:bold;letter-spacing:-0.0642px;left:435.5px;">29.5</div>
<div class="t" style="top:478px;font-size:14.5px;line-height:16px;font-weight:bold;letter-spacing:-0.0642px;left:735.5px;">30.3</div>
<div class="t" style="top:478px;font-size:14.5px;line-height:16px;font-weight:bold;letter-spacing:-0.0642px;left:1035.5px;">10.7</div>
<div class="t" style="top:495px;font-size:14.5px;line-height:16px;font-weight:bold;letter-spacing:-0.0642px;left:435.5px;">25.9</div>
<div class="t" style="top:495px;font-size:14.5px;line-height:16px;font-weight:bold;letter-spacing:-0.0642px;left:735.5px;">36.3</div>
<div class="t" style="top:495px;font-size:14.5px;line-height:16px;font-weight:bold;letter-spacing:-0.0642px;left:1035.5px;">10.6</div>
<span class="w" style="top:515px"><i style="left:0px">U</i><i style="left:11px">n</i><i style="left:20px">w</i><i style="left:32px">e</i><i style="left:40px">i</i><i style="left:44px">g</i><i style="left:53px">h</i><i style="left:62px">t</i><i style="left:67px">e</i><i style="left:76px">d</i></span>
<span class="w" style="top:515px"><i style="left:85px">D</i><i style="left:95px">a</i><i style="left:103px">t</i><i style="left:108px">a</i></span>
<div class="t" style="top:532px;font-size:14.5px;line-height:16px;font-weight:bold;letter-spacing:-0.0642px;left:435.5px;">23.9</div>
<div class="t" style="top:532px;font-size:14.5px;line-height:16px;font-weight:bold;letter-spacing:-0.0642px;left:735.5px;">29.0</div>
<div class="t" style="top:532px;font-size:14.5px;line-height:16px;font-weight:bold;letter-spacing:-0.0642px;left:1035.5px;">13.6</div>
<div class="t" style="top:549px;font-size:14.5px;line-height:16px;font-weight:bold;letter-spacing:-0.0642px;left:435.5px;">24.5</div>
<div class="t" style="top:549px;font-size:14.5px;line-height:16px;font-weight:bold;letter-spacing:-0.0642px;left:735.5px;">33.0</div>
<div class="t" style="top:549px;font-size:14.5px;line-height:16px;font-weight:bold;letter-spacing:-0.0642px;left:1035.5px;">11.8</div>
<div class="t" style="top:566px;font-size:14.5px;line-height:16px;font-weight:bold;letter-spacing:-0.0642px;left:435.5px;">19.9</div>
<div class="t" style="top:566px;font-size:14.5px;line-height:16px;font-weight:bold;letter-spacing:-0.0642px;left:735.5px;">27.1</div>
<div class="t" style="top:566px;font-size:14.5px;line-height:16px;font-weight:bold;letter-spacing:-0.0642px;left:1043.5px;">7.2</div>
<div class="t" style="top:582px;font-size:14.5px;line-height:16px;font-weight:bold;letter-spacing:-0.0642px;left:435.5px;">24.2</div>
<div class="t" style="top:582px;font-size:14.5px;line-height:16px;font-weight:bold;letter-spacing:-0.0642px;left:735.5px;">33.9</div>
<div class="t" style="top:582px;font-size:14.5px;line-height:16px;font-weight:bold;letter-spacing:-0.0642px;left:1043.5px;">5.7</div>
<div class="t" style="top:599px;font-size:14.5px;line-height:16px;font-weight:bold;letter-spacing:-0.0642px;left:435.5px;">32.2</div>
<div class="t" style="top:599px;font-size:14.5px;line-height:16px;font-weight:bold;letter-spacing:-0.0642px;left:735.5px;">30.7</div>
<div class="t" style="top:599px;font-size:14.5px;line-height:16px;font-weight:bold;letter-spacing:-0.0642px;left:1035.5px;">10.8</div>
<div class="t" style="top:616px;font-size:14.5px;line-height:16px;font-weight:bold;letter-spacing:-0.0642px;left:435.5px;">27.6</div>
<div class="t" style="top:616px;font-size:14.5px;line-height:16px;font-weight:bold;letter-spacing:-0.0642px;left:735.5px;">36.7</div>
<div class="t" style="top:616px;font-size:14.5px;line-height:16px;font-weight:bold;letter-spacing:-0.0642px;left:1043.5px;">9.9</div>
<div class="t" style="top:632px;font-size:14.5px;line-height:16px;font-weight:bold;letter-spacing:-0.0642px;left:435.5px;">28.6</div>
<div class="t" style="top:632px;font-size:14.5px;line-height:16px;font-weight:bold;letter-spacing:-0.0642px;left:735.5px;">29.7</div>
<div class="t" style="top:632px;font-size:14.5px;line-height:16px;font-weight:bold;letter-spacing:-0.0642px;left:1035.5px;">12.9</div>
<div class="t" style="top:649px;font-size:14.5px;line-height:16px;font-weight:bold;letter-spacing:-0.0642px;left:435.5px;">18.6</div>
<div class="t" style="top:649px;font-size:14.5px;line-height:16px;font-weight:bold;letter-spacing:-0.0642px;left:735.5px;">26.4</div>
<div class="t" style="top:649px;font-size:14.5px;line-height:16px;font-weight:bold;letter-spacing:-0.0642px;left:1043.5px;">5.0</div>
<div class="t" style="top:666px;font-size:14.5px;line-height:16px;font-weight:bold;letter-spacing:-0.0642px;left:435.5px;">26.2</div>
<div class="t" style="top:666px;font-size:14.5px;line-height:16px;font-weight:bold;letter-spacing:-0.0642px;left:735.5px;">30.0</div>
<div class="t" style="top:666px;font-size:14.5px;line-height:16px;font-weight:bold;letter-spacing:-0.0642px;left:1035.5px;">12.0</div>
<div class="t" style="top:682px;font-size:14.5px;line-height:16px;font-weight:bold;letter-spacing:-0.0642px;left:435.5px;">22.1</div>
<div class="t" style="top:682px;font-size:14.5px;line-height:16px;font-weight:bold;letter-spacing:-0.0642px;left:735.5px;">27.7</div>
<div class="t" style="top:682px;font-size:14.5px;line-height:16px;font-weight:bold;letter-spacing:-0.0642px;left:1043.5px;">5.8</div>
<div class="t" style="top:699px;font-size:14.5px;line-height:16px;font-weight:bold;letter-spacing:-0.0642px;left:435.5px;">30.5</div>
<div class="t" style="top:699px;font-size:14.5px;line-height:16px;font-weight:bold;letter-spacing:-0.0642px;left:735.5px;">40.2</div>
<div class="t" style="top:699px;font-size:14.5px;line-height:16px;font-weight:bold;letter-spacing:-0.0642px;left:1035.5px;">19.6</div>
</div>
<div class="ly" id="lm">
<div class="t" style="top:112px;font-size:14px;line-height:16px;letter-spacing:-0.775px;left:0.6px;-webkit-text-stroke:0.45px #000;">STATE</div>
<div class="t" style="top:112px;font-size:14px;line-height:16px;letter-spacing:0.183px;left:46.5px;-webkit-text-stroke:0.45px #000;">SURVEYS</div>
</div>
<div class="ly" id="ln">
<span class="w" style="top:145px"><i style="left:14px">A</i><i style="left:24px">l</i><i style="left:27px">a</i><i style="left:36px">b</i><i style="left:44px">a</i><i style="left:53px">m</i><i style="left:65px">a</i></span>
<span class="w" style="top:162px"><i style="left:14px">A</i><i style="left:24px">l</i><i style="left:27px">a</i><i style="left:35px">s</i><i style="left:43px">k</i><i style="left:50px">a</i></span>
<span class="w" style="top:178px"><i style="left:14px">A</i><i style="left:24px">r</i><i style="left:29px">k</i><i style="left:36px">a</i><i style="left:45px">n</i><i style="left:53px">s</i><i style="left:61px">a</i><i style="left:69px">s</i></span>
<span class="w" style="top:195px"><i style="left:14px">D</i><i style="left:25px">e</i><i style="left:33px">l</i><i style="left:37px">a</i><i style="left:45px">w</i><i style="left:56px">a</i><i style="left:65px">r</i><i style="left:70px">e</i></span>
<span class="w" style="top:212px"><i style="left:14px">H</i><i style="left:25px">a</i><i style="left:33px">w</i><i style="left:44px">a</i><i style="left:53px">i</i><i style="left:56px">i</i></span>
<span class="w" style="top:228px"><i style="left:14.5px">M</i><i style="left:27px">a</i><i style="left:35px">s</i><i style="left:42px">s</i><i style="left:50px">a</i><i style="left:58px">c</i><i style="left:66px">h</i><i style="left:74px">u</i><i style="left:83px">s</i><i style="left:90px">e</i><i style="left:99px">t</i><i style="left:103px">t</i><i style="left:107px">s</i></span>
<span class="w" style="top:245px"><i style="left:14.5px">M</i><i style="left:27px">i</i><i style="left:31px">c</i><i style="left:38px">h</i><i style="left:47px">i</i><i style="left:51px">g</i><i style="left:59px">a</i><i style="left:68px">n</i></span>
<span class="w" style="top:262px"><i style="left:14.5px">M</i><i style="left:27px">i</i><i style="left:31px">s</i><i style="left:39px">s</i><i style="left:47px">i</i><i style="left:51px">s</i><i style="left:59px">s</i><i style="left:67px">i</i><i style="left:70px">p</i><i style="left:79px">p</i><i style="left:88px">i</i></span>
<span class="w" style="top:278px"><i style="left:14.5px">M</i><i style="left:28px">i</i><i style="left:31px">s</i><i style="left:39px">s</i><i style="left:48px">o</i><i style="left:57px">u</i><i style="left:66px">r</i><i style="left:71px">i</i></span>
<span class="w" style="top:295px"><i style="left:14.5px">M</i><i style="left:27px">o</i><i style="left:35px">n</i><i style="left:44px">t</i><i style="left:48px">a</i><i style="left:56px">n</i><i style="left:65px">a</i></span>
<span class="w" style="top:312px"><i style="left:14px">N</i><i style="left:25px">e</i><i style="left:33px">v</i><i style="left:41px">a</i><i style="left:49px">d</i><i style="left:58px">a</i></span>
<span class="w" style="top:328px"><i style="left:14px">N</i><i style="left:26px">e</i><i style="left:35px">w</i></span>
<span class="w" style="top:328px"><i style="left:48px">Y</i><i style="left:58px">o</i><i style="left:66px">r</i><i style="left:71px">k</i></span>
<span class="w" style="top:345px"><i style="left:14px">N</i><i style="left:26px">o</i><i style="left:35px">r</i><i style="left:41px">t</i><i style="left:46px">h</i></span>
<span class="w" style="top:345px"><i style="left:55px">D</i><i style="left:66px">a</i><i style="left:74px">k</i><i style="left:81px">o</i><i style="left:89px">t</i><i style="left:93px">a</i></span>
<span class="w" style="top:362px"><i style="left:14px">O</i><i style="left:26px">h</i><i style="left:34px">i</i><i style="left:37px">o</i></span>
<span class="w" style="top:378px"><i style="left:14px">S</i><i style="left:24px">o</i><i style="left:33px">u</i><i style="left:42px">t</i><i style="left:46px">h</i></span>
<span class="w" style="top:378px"><i style="left:57px">C</i><i style="left:68px">a</i><i style="left:77px">r</i><i style="left:82px">o</i><i style="left:90px">l</i><i style="left:94px">i</i><i style="left:97px">n</i><i style="left:106px">a</i></span>
<span class="w" style="top:395px"><i style="left:14px">S</i><i style="left:24px">o</i><i style="left:33px">u</i><i style="left:42px">t</i><i style="left:46px">h</i></span>
<span class="w" style="top:395px"><i style="left:55px">D</i><i style="left:66px">a</i><i style="left:74px">k</i><i style="left:81px">o</i><i style="left:90px">t</i><i style="left:94px">a</i></span>
<span class="w" style="top:412px"><i style="left:14px">T</i><i style="left:23px">e</i><i style="left:31px">n</i><i style="left:39px">n</i><i style="left:47px">e</i><i style="left:55px">s</i><i style="left:62px">s</i><i style="left:70px">e</i><i style="left:78px">e</i></span>
<span class="w" style="top:428px"><i style="left:14px">U</i><i style="left:24px">t</i><i style="left:28px">a</i><i style="left:36px">h</i></span>
<span class="w" style="top:445px"><i style="left:14px">V</i><i style="left:24px">e</i><i style="left:33px">r</i><i style="left:38px">m</i><i style="left:51px">o</i><i style="left:60px">n</i><i style="left:68px">t</i></span>
<span class="w" style="top:462px"><i style="left:14px">W</i><i style="left:29px">e</i><i style="left:38px">s</i><i style="left:46px">t</i></span>
<span class="w" style="top:462px"><i style="left:53px">V</i><i style="left:64px">i</i><i style="left:67px">r</i><i style="left:73px">g</i><i style="left:82px">i</i><i style="left:85px">n</i><i style="left:94px">i</i><i style="left:98px">a</i></span>
<span class="w" style="top:478px"><i style="left:14px">W</i><i style="left:29px">i</i><i style="left:32px">s</i><i style="left:40px">c</i><i style="left:48px">o</i><i style="left:56px">n</i><i style="left:65px">s</i><i style="left:73px">i</i><i style="left:76px">n</i></span>
<span class="w" style="top:495px"><i style="left:14px">W</i><i style="left:29px">y</i><i style="left:37px">o</i><i style="left:46px">m</i><i style="left:59px">i</i><i style="left:63px">n</i><i style="left:72px">g</i></span>
<span class="w" style="top:532px"><i style="left:14px">C</i><i style="left:25px">o</i><i style="left:34px">n</i><i style="left:43px">n</i><i style="left:51px">e</i><i style="left:60px">c</i><i style="left:68px">t</i><i style="left:72px">i</i><i style="left:75px">c</i><i style="left:83px">u</i><i style="left:92px">t</i></span>
<span class="w" style="top:549px"><i style="left:14px">F</i><i style="left:23px">l</i><i style="left:27px">o</i><i style="left:35px">r</i><i style="left:40px">i</i><i style="left:44px">d</i><i style="left:52px">a</i></span>
<span class="w" style="top:566px"><i style="left:14.5px">I</i><i style="left:19px">l</i><i style="left:22px">l</i><i style="left:26px">i</i><i style="left:30px">n</i><i style="left:39px">o</i><i style="left:49px">i</i><i style="left:52px">s</i></span>
<span class="w" style="top:582px"><i style="left:14.5px">I</i><i style="left:18px">o</i><i style="left:27px">w</i><i style="left:37px">a</i></span>
<span class="w" style="top:599px"><i style="left:14px">K</i><i style="left:24px">e</i><i style="left:32px">n</i><i style="left:41px">t</i><i style="left:45px">u</i><i style="left:53px">c</i><i style="left:61px">k</i><i style="left:68px">y</i></span>
<span class="w" style="top:616px"><i style="left:14px">L</i><i style="left:23px">o</i><i style="left:31px">u</i><i style="left:40px">i</i><i style="left:43px">s</i><i style="left:51px">i</i><i style="left:54px">a</i><i style="left:62px">n</i><i style="left:71px">a</i></span>
<span class="w" style="top:632px"><i style="left:14.5px">M</i><i style="left:27px">a</i><i style="left:36px">i</i><i style="left:39px">n</i><i style="left:48px">e</i></span>
<span class="w" style="top:649px"><i style="left:14px">N</i><i style="left:25px">e</i><i style="left:33px">b</i><i style="left:41px">r</i><i style="left:46px">a</i><i style="left:54px">s</i><i style="left:62px">k</i><i style="left:69px">a</i></span>
<span class="w" style="top:666px"><i style="left:14px">N</i><i style="left:26px">e</i><i style="left:35px">w</i></span>
<span class="w" style="top:666px"><i style="left:47px">H</i><i style="left:58px">a</i><i style="left:67px">m</i><i style="left:80px">p</i><i style="left:88px">s</i><i style="left:96px">h</i><i style="left:105px">i</i><i style="left:108px">r</i><i style="left:113px">e</i></span>
<span class="w" style="top:682px"><i style="left:14px">N</i><i style="left:26px">e</i><i style="left:35px">w</i></span>
<span class="w" style="top:682px"><i style="left:48px">J</i><i style="left:56px">e</i><i style="left:64px">r</i><i style="left:69px">s</i><i style="left:77px">e</i><i style="left:85px">y</i></span>
<span class="w" style="top:699px"><i style="left:14px">N</i><i style="left:26px">e</i><i style="left:35px">w</i></span>
<span class="w" style="top:699px"><i style="left:47.5px">M</i><i style="left:60px">e</i><i style="left:69px">x</i><i style="left:77px">i</i><i style="left:81px">c</i><i style="left:89px">o</i></span>
</div>
<div class="ly" id="lt">
<div class="t" style="top:-4px;font-size:19.5px;line-height:22px;font-weight:bold;transform:scaleX(0.912);transform-origin:0 0;left:1.0px;">Table</div>
<div class="t" style="top:-4px;font-size:19.5px;line-height:22px;font-weight:bold;transform:scaleX(0.972);transform-origin:0 0;left:50.93px;">27.</div>
<div class="t" style="top:-4px;font-size:19.5px;line-height:22px;font-weight:bold;transform:scaleX(0.926);transform-origin:0 0;left:79.97px;">Percentage</div>
<div class="t" style="top:-4px;font-size:19.5px;line-height:22px;font-weight:bold;transform:scaleX(0.8944);transform-origin:0 0;left:183.11px;">of</div>
<div class="t" style="top:-4px;font-size:19.5px;line-height:22px;font-weight:bold;transform:scaleX(0.941);transform-origin:0 0;left:204.36px;">high</div>
<div class="t" style="top:-4px;font-size:19.5px;line-height:22px;font-weight:bold;transform:scaleX(0.9164);transform-origin:0 0;left:247.28px;">school</div>
<div class="t" style="top:-4px;font-size:19.5px;line-height:22px;font-weight:bold;transform:scaleX(0.9313);transform-origin:0 0;left:309.57px;">students</div>
<div class="t" style="top:-4px;font-size:19.5px;line-height:22px;font-weight:bold;transform:scaleX(0.9842);transform-origin:0 0;left:391.4px;">who</div>
<div class="t" style="top:-4px;font-size:19.5px;line-height:22px;font-weight:bold;transform:scaleX(0.9778);transform-origin:0 0;left:433.62px;">initiated</div>
<div class="t" style="top:-4px;font-size:19.5px;line-height:22px;font-weight:bold;transform:scaleX(0.9667);transform-origin:0 0;left:510.33px;">drug-related</div>
<div class="t" style="top:-4px;font-size:19.5px;line-height:22px;font-weight:bold;transform:scaleX(0.9489);transform-origin:0 0;left:623.45px;">behaviors</div>
<div class="t" style="top:-4px;font-size:19.5px;line-height:22px;font-weight:bold;transform:scaleX(0.9379);transform-origin:0 0;left:715.36px;">before</div>
<div class="t" style="top:-4px;font-size:19.5px;line-height:22px;font-weight:bold;transform:scaleX(0.9656);transform-origin:0 0;left:774.23px;">age</div>
<div class="t" style="top:-4px;font-size:19.5px;line-height:22px;font-weight:bold;transform:scaleX(0.86);transform-origin:0 0;left:811.64px;">13</div>
<div class="t" style="top:-4px;font-size:19.5px;line-height:22px;font-weight:bold;transform:scaleX(0.9727);transform-origin:0 0;left:835.3px;">years,</div>
<div class="t" style="top:-4px;font-size:19.5px;line-height:22px;font-weight:bold;transform:scaleX(0.9227);transform-origin:0 0;left:890.38px;">by</div>
<div class="t" style="top:-4px;font-size:19.5px;line-height:22px;font-weight:bold;transform:scaleX(0.9129);transform-origin:0 0;left:917.49px;">sex</div>
<div class="t" style="top:-4px;font-size:19.5px;line-height:22px;font-weight:bold;transform:scaleX(0.935);transform-origin:0 0;left:950.2px;">—</div>
<div class="t" style="top:-4px;font-size:19.5px;line-height:22px;font-weight:bold;transform:scaleX(0.9329);transform-origin:0 0;left:973.07px;">selected</div>
<div class="t" style="top:-4px;font-size:19.5px;line-height:22px;font-weight:bold;transform:scaleX(0.9667);transform-origin:0 0;left:1050.03px;">U.S.</div>
<div class="t" style="top:17px;font-size:19.5px;line-height:22px;font-weight:bold;transform:scaleX(0.9229);transform-origin:0 0;left:0.08px;">sites,</div>
<div class="t" style="top:17px;font-size:19.5px;line-height:22px;font-weight:bold;transform:scaleX(0.9302);transform-origin:0 0;left:49.97px;">Youth</div>
<div class="t" style="top:17px;font-size:19.5px;line-height:22px;font-weight:bold;transform:scaleX(0.875);transform-origin:0 0;left:107.03px;">Risk</div>
<div class="t" style="top:17px;font-size:19.5px;line-height:22px;font-weight:bold;transform:scaleX(0.9341);transform-origin:0 0;left:147.57px;">Behavior</div>
<div class="t" style="top:17px;font-size:19.5px;line-height:22px;font-weight:bold;transform:scaleX(0.9506);transform-origin:0 0;left:228.35px;">Surveys,</div>
<div class="t" style="top:17px;font-size:19.5px;line-height:22px;font-weight:bold;transform:scaleX(0.9071);transform-origin:0 0;left:310.79px;">1999</div>
</div>
</body></html>
